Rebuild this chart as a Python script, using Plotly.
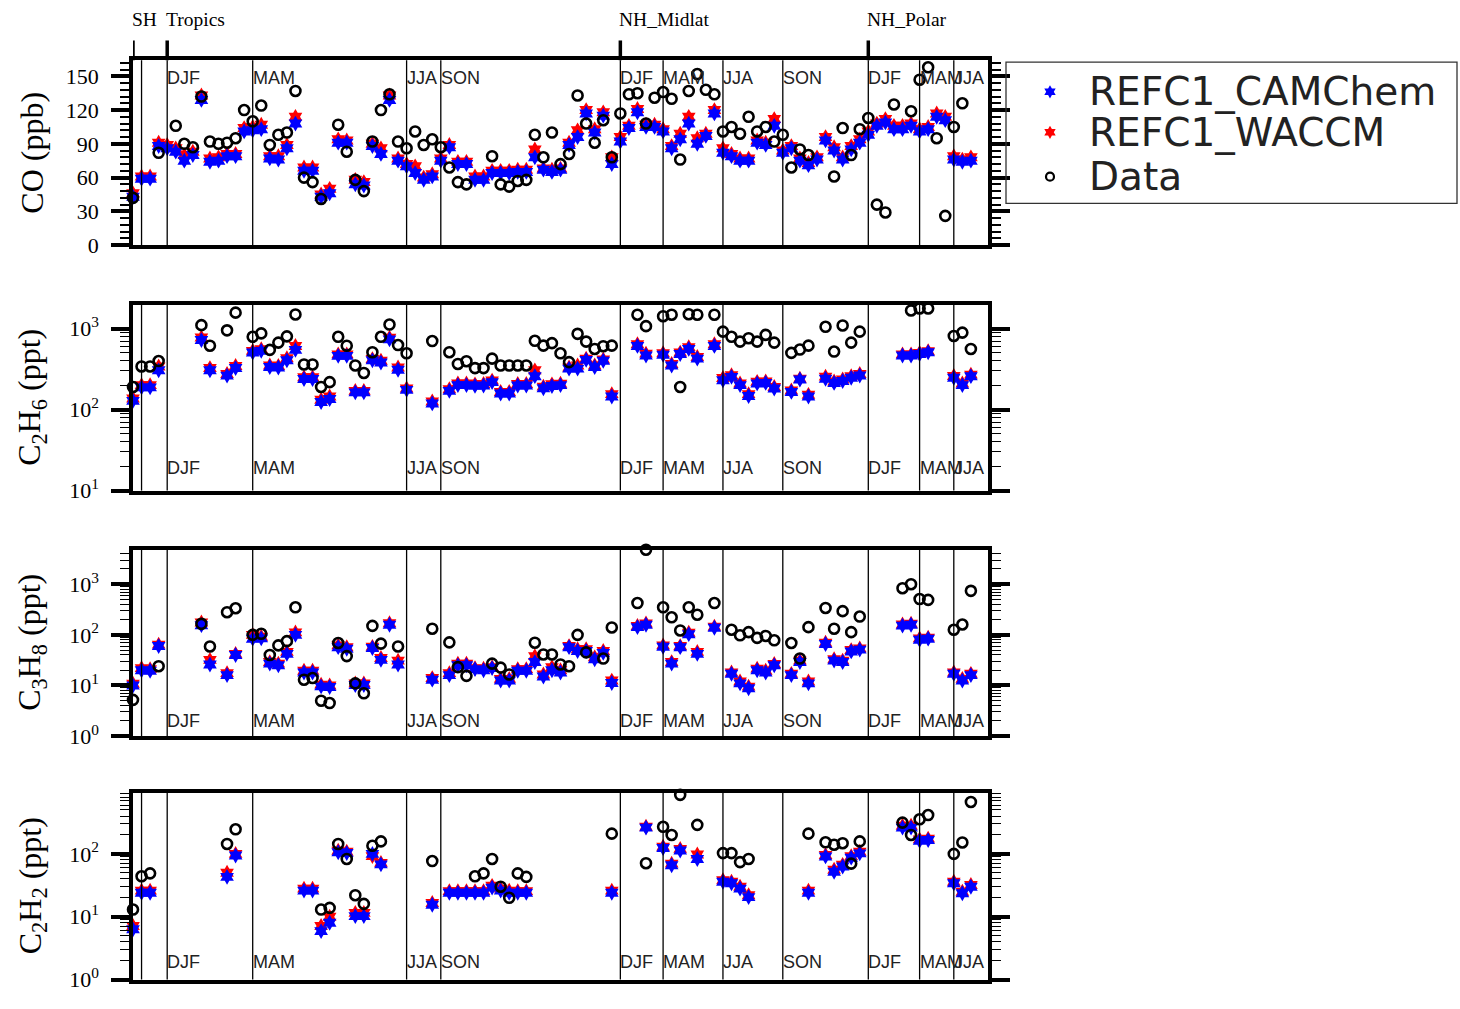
import plotly.graph_objects as go

# ---------------- data (x = sample slot index) ----------------
co_k = [0,1,2,3,4,5,6,7,8,9,10,11,12,13,14,15,16,17,18,19,20,21,22,23,24,25,26,27,28,29,30,31,32,33,34,35,36,37,38,39,40,41,42,43,44,45,46,47,48,49,50,51,52,53,54,55,56,57,58,59,60,61,62,63,64,65,66,67,68,69,70,71,72,73,74,75,76,77,78,79,80,81,82,83,84,85,86,87,88,89,90,91,92,93,94,95,96,97,98]
co_cam = [43,59,59,88,86,83,75,80,129,74,75,79,79,101,102,103,77,76,86,108,66,66,43,46,91,91,54,53,88,81,129,75,70,64,58,61,75,87,72,72,58,58,64,64,64,65,65,78,67,65,67,89,96,117,100,115,72,92,104,118,105,105,101,86,94,108,90,97,117,82,79,75,75,91,89,106,82,86,75,71,76,93,84,76,85,91,98,106,109,103,103,106,101,103,114,111,76,74,75]
co_waccm = [46,61,61,91,89,86,80,83,133,77,78,81,81,104,105,107,79,79,89,114,69,69,45,50,94,93,58,56,90,86,133,77,72,70,60,63,77,89,74,74,61,61,66,66,66,67,67,85,68,67,68,91,102,120,103,118,78,96,106,121,107,107,103,88,99,114,95,99,120,86,81,77,77,93,91,112,84,88,77,73,78,96,87,78,88,94,101,108,112,106,106,108,103,105,117,114,79,76,78]
co_obs = [42,None,None,82,None,106,90,87,132,92,90,91,95,120,110,124,89,98,100,137,60,56,41,None,107,83,58,48,92,120,134,92,86,101,89,94,87,69,56,54,None,None,79,54,52,57,58,98,78,100,72,81,133,108,91,111,78,117,134,135,108,131,136,130,76,137,152,138,134,101,105,99,114,101,105,92,98,69,85,80,None,None,61,104,80,103,113,36,29,125,None,119,147,158,95,26,105,126,None]

c2h6_k = [0,1,2,3,8,9,11,12,14,15,16,17,18,19,20,21,22,23,24,25,26,27,28,29,30,31,32,35,37,38,39,40,41,42,43,44,45,46,47,48,49,50,51,52,53,54,55,56,59,60,62,63,64,65,66,68,69,70,71,72,73,74,75,77,78,79,81,82,83,84,85,90,91,92,93,96,97,98]
c2h6_cam = [128,188,188,305,720,305,262,325,505,530,335,330,405,545,238,238,124,135,460,460,163,163,405,380,735,310,175,119,170,200,200,196,198,218,158,158,198,198,258,183,195,200,320,320,410,335,400,145,610,465,475,350,485,560,425,610,230,253,200,147,210,213,182,165,235,145,240,213,225,247,263,465,465,485,510,247,200,258]
c2h6_waccm = [137,200,200,340,775,325,275,345,530,555,350,345,430,610,250,250,132,145,480,480,170,170,420,400,770,330,182,126,178,210,210,205,207,228,165,165,207,207,305,192,205,208,330,350,425,350,415,155,640,490,495,365,505,590,445,640,245,265,210,155,220,222,190,172,240,152,255,222,235,258,275,480,480,500,525,260,210,270]
c2h6_obs = [190,340,340,397,1100,613,950,1570,790,870,545,670,800,1490,360,360,190,218,790,613,350,283,510,790,1120,625,495,700,510,365,395,325,325,425,350,350,350,350,705,615,660,495,385,860,690,560,605,615,1480,1070,1420,1480,190,1500,1480,1480,915,790,690,760,690,835,670,500,550,615,1050,520,1090,670,915,1950,1670,1770,1770,810,890,560]

c3h8_k = [0,1,2,3,8,9,11,12,14,15,16,17,18,19,20,21,22,23,24,25,26,27,28,29,30,31,35,37,38,39,40,41,42,43,44,45,46,47,48,49,50,51,52,53,54,55,56,59,60,62,63,64,65,66,68,70,71,72,73,74,75,77,78,79,81,82,83,84,85,90,91,92,93,96,97,98]
c3h8_cam = [10,20,19.5,60,155,26,16,40,84,85,27,25,42,100,18,18,9.6,9.3,57,53,10.2,10.2,55,32,158,26,13,16,25,25,21,20,22,12.5,12.5,19.5,19.5,29,15,20,18,57,48,48,33,44,11.2,142,158,58,27,57,103,42,138,17,11,8.8,20,18,25,16,29,11,66,31,29,47,51,152,158,80,84,17,12.5,16]
c3h8_waccm = [10.8,22,21,64,175,32,17.5,42,100,92,29,27,46,112,19.5,19.5,10.4,10,62,57,11,11,58,35,170,31,14,17.5,27,27,22,21.5,23,13.5,13.5,21,21,38,16.5,23,20,60,52,52,36,48,12.5,150,168,62,29,60,110,46,145,18,12,9.5,21.5,19.5,26.5,17,31,12,70,33,31,50,54,160,166,85,88,18,13.5,17]
c3h8_obs = [5.2,None,None,24,165,59,280,335,100,105,40,62,75,350,13,14,5.0,4.5,69,38,11,7,150,67,None,59,132,71,23,15.5,None,None,27,22.5,16.5,None,None,70,41,41,26,24,100,45,None,34,140,425,4800,350,222,122,350,250,425,126,98,113,87,95,78,69,34,142,340,132,294,113,230,835,1000,510,490,126,160,740]

c2h2_k = [0,1,2,11,12,20,21,22,23,24,25,26,27,28,29,35,37,38,39,40,41,42,43,44,45,46,56,60,62,63,64,66,69,70,71,72,79,81,82,83,84,85,90,91,92,93,96,97,98]
c2h2_cam = [6.3,24,24,43,94,26,26,5.9,8,106,103,10.2,10.2,100,68,15.5,24,24,24,24,24,29,26,24,24,24,24,262,124,66,113,83,36,34,28,20.5,24,91,52,63,87,102,262,262,162,166,34,23.6,30]
c2h2_waccm = [7.1,26,26,50,100,28,28,7.1,10,112,108,11.5,11.5,92,72,16.5,25.5,25.5,25.5,25.5,25.5,31,28,26,25.5,25.5,26,270,130,70,120,98,38,36,30,22,26,96,56,67,92,108,280,280,170,175,36,25,32]
c2h2_obs = [13,44,49,144,246,None,None,13,13.8,144,83,22,16,135,158,77,None,None,None,44,49,83,30,20,49,43,210,71,270,200,870,290,103,103,74,83,210,153,140,148,70,158,315,200,355,415,100,152,670]

season_lines = [1, 4, 14, 32, 36, 57, 62, 69, 76, 86, 92, 96]
season_names = ["DJF", "MAM", "JJA", "SON", "DJF", "MAM", "JJA", "SON", "DJF", "MAM", "JJA"]
season_starts = [4, 14, 32, 36, 57, 62, 69, 76, 86, 92, 96]
region_names = ["SH", "Tropics", "NH_Midlat", "NH_Polar"]
region_starts = [0, 4, 57, 86]
legend_names = ["REFC1_CAMChem", "REFC1_WACCM", "Data"]

# ---------------- layout geometry ----------------
W, H = 1460, 1009
X0, X1 = 133, 988
panels_px = [(61, 248.3), (309, 497), (556.7, 745.7), (803.3, 992.3)]
LEG = (1006, 63, 1457, 206)  # legend box in px


def py(p):
    return 1 - p / H


serif = "Liberation Serif"
sans = "Liberation Sans"

fig = go.Figure()

panels = [
    (co_k, co_cam, co_waccm, co_obs),
    (c2h6_k, c2h6_cam, c2h6_waccm, c2h6_obs),
    (c3h8_k, c3h8_cam, c3h8_waccm, c3h8_obs),
    (c2h2_k, c2h2_cam, c2h2_waccm, c2h2_obs),
]

star_size = 12
for i, (k, cam, wac, obs) in enumerate(panels):
    n = i + 1
    xa = "x" if n == 1 else f"x{n}"
    ya = "y" if n == 1 else f"y{n}"
    fig.add_trace(go.Scatter(x=k, y=wac, mode="markers", name="REFC1_WACCM",
                             marker=dict(symbol="hexagram", size=star_size, color="#ff0000", line=dict(width=0)),
                             xaxis=xa, yaxis=ya, showlegend=False, cliponaxis=False))
    fig.add_trace(go.Scatter(x=k, y=cam, mode="markers", name="REFC1_CAMChem",
                             marker=dict(symbol="hexagram", size=star_size, color="#0000ff", line=dict(width=0)),
                             xaxis=xa, yaxis=ya, showlegend=False, cliponaxis=False))
    fig.add_trace(go.Scatter(x=k, y=obs, mode="markers", name="Data",
                             marker=dict(symbol="circle-open", size=10, color="black", line=dict(width=2.6)),
                             xaxis=xa, yaxis=ya, showlegend=False, cliponaxis=False))

axis_common = dict(showline=True, linewidth=3.5, linecolor="black", mirror=True,
                   showgrid=False, zeroline=False)

log_ranges = [None, (1, 3.29), (0, 3.685), (0, 2.97)]
log_decades = [None, [1, 2, 3], [0, 1, 2, 3], [0, 1, 2]]

for i, (top, bot) in enumerate(panels_px):
    n = i + 1
    sfx = "" if n == 1 else str(n)
    fig.update_layout(**{
        f"xaxis{sfx}": dict(axis_common, domain=[X0 / W, X1 / W], range=[0, 100],
                            showticklabels=False, ticks="", anchor=f"y{sfx}" if n > 1 else "y"),
    })
    ycfg = dict(axis_common, domain=[py(bot), py(top)], anchor=f"x{sfx}" if n > 1 else "x",
                mirror="ticks", ticks="outside", ticklen=18, tickwidth=3.5, tickcolor="black",
                tickfont=dict(family=serif, size=22, color="black"), ticklabelstandoff=8)
    if n == 1:
        ycfg.update(range=[0, 164.3], tickvals=[0, 30, 60, 90, 120, 150],
                    minor=dict(ticks="outside", ticklen=9, tickwidth=1.5, tickcolor="black", dtick=6))
    else:
        lo, hi = log_ranges[i]
        decs = log_decades[i]
        mt = []
        for d in range(int(lo), int(hi) + 1):
            for m in range(2, 10):
                mt.append(m * 10 ** d)
        ycfg.update(type="log", range=[lo, hi],
                    tickvals=[10 ** d for d in decs],
                    ticktext=[f"10<sup>{d}</sup>" for d in decs],
                    minor=dict(ticks="outside", ticklen=9, tickwidth=1.2, tickcolor="black", tickvals=mt))
    fig.update_layout(**{f"yaxis{sfx}": ycfg})

# legend area axis (pixel units inside legend box)
fig.update_layout(
    xaxis5=dict(domain=[LEG[0] / W, LEG[2] / W], range=[0, LEG[2] - LEG[0]], visible=False,
                anchor="y5", fixedrange=True),
    yaxis5=dict(domain=[py(LEG[3]), py(LEG[1])], range=[LEG[3] - LEG[1], 0], visible=False,
                anchor="x5", fixedrange=True),
)
leg_rows = [30, 71, 116]
leg_marker_x = 44
fig.add_trace(go.Scatter(x=[leg_marker_x], y=[leg_rows[0]], mode="markers", xaxis="x5", yaxis="y5",
                         marker=dict(symbol="hexagram", size=10, color="#0000ff"), showlegend=False,
                         hoverinfo="skip"))
fig.add_trace(go.Scatter(x=[leg_marker_x], y=[leg_rows[1]], mode="markers", xaxis="x5", yaxis="y5",
                         marker=dict(symbol="hexagram", size=10, color="#ff0000"), showlegend=False,
                         hoverinfo="skip"))
fig.add_trace(go.Scatter(x=[leg_marker_x], y=[leg_rows[2]], mode="markers", xaxis="x5", yaxis="y5",
                         marker=dict(symbol="circle-open", size=8, color="black", line=dict(width=2.2)),
                         showlegend=False, hoverinfo="skip"))

shapes = []
annotations = []
season_label_y = [0.904, 0.122, 0.083, 0.092]
for i in range(4):
    n = i + 1
    xr = "x" if n == 1 else f"x{n}"
    yr = "y domain" if n == 1 else f"y{n} domain"
    for s in season_lines:
        shapes.append(dict(type="line", xref=xr, yref=yr, x0=s, x1=s, y0=0, y1=1,
                           line=dict(color="black", width=1.3)))
    for name, s in zip(season_names, season_starts):
        annotations.append(dict(text=name, xref=xr, yref=yr, x=s, y=season_label_y[i],
                                xanchor="left", yanchor="middle", showarrow=False, xshift=-2,
                                font=dict(family=sans, size=18, color="#222")))

# region ticks and labels above the first panel
for name, s in zip(region_names, region_starts):
    shapes.append(dict(type="line", xref="x", yref="paper", x0=s, x1=s, y0=py(61), y1=py(41),
                       line=dict(color="black", width=3.5)))
    annotations.append(dict(text=name, xref="x", yref="paper", x=s, y=py(20), xanchor="left",
                            yanchor="middle", showarrow=False, xshift=-3,
                            font=dict(family=serif, size=19.5, color="black")))

titles = ["CO (ppb)", "C<sub>2</sub>H<sub>6</sub> (ppt)", "C<sub>3</sub>H<sub>8</sub> (ppt)", "C<sub>2</sub>H<sub>2</sub> (ppt)"]
for t, (top, bot) in zip(titles, panels_px):
    annotations.append(dict(text=t, xref="paper", yref="paper", x=32 / W, y=py((top + bot) / 2),
                            xanchor="center", yanchor="middle", showarrow=False, textangle=-90,
                            font=dict(family=serif, size=32, color="black")))

# legend box and texts
shapes.append(dict(type="rect", xref="paper", yref="paper", x0=LEG[0] / W, x1=LEG[2] / W,
                   y0=py(LEG[3]), y1=py(LEG[1]), line=dict(color="#333", width=1.3)))
for name, ry in zip(legend_names, leg_rows):
    annotations.append(dict(text=name, xref="x5", yref="y5", x=84, y=ry, xanchor="left",
                            yanchor="middle", showarrow=False, xshift=-3,
                            font=dict(family="DejaVu Sans", size=39, color="#222")))

fig.update_layout(
    width=W, height=H, autosize=False,
    margin=dict(l=0, r=0, t=0, b=0),
    paper_bgcolor="white", plot_bgcolor="white",
    shapes=shapes, annotations=annotations,
    showlegend=False,
)

fig.write_html("out.html", config={"displayModeBar": False},
               post_script="document.body.style.margin='0px';")
